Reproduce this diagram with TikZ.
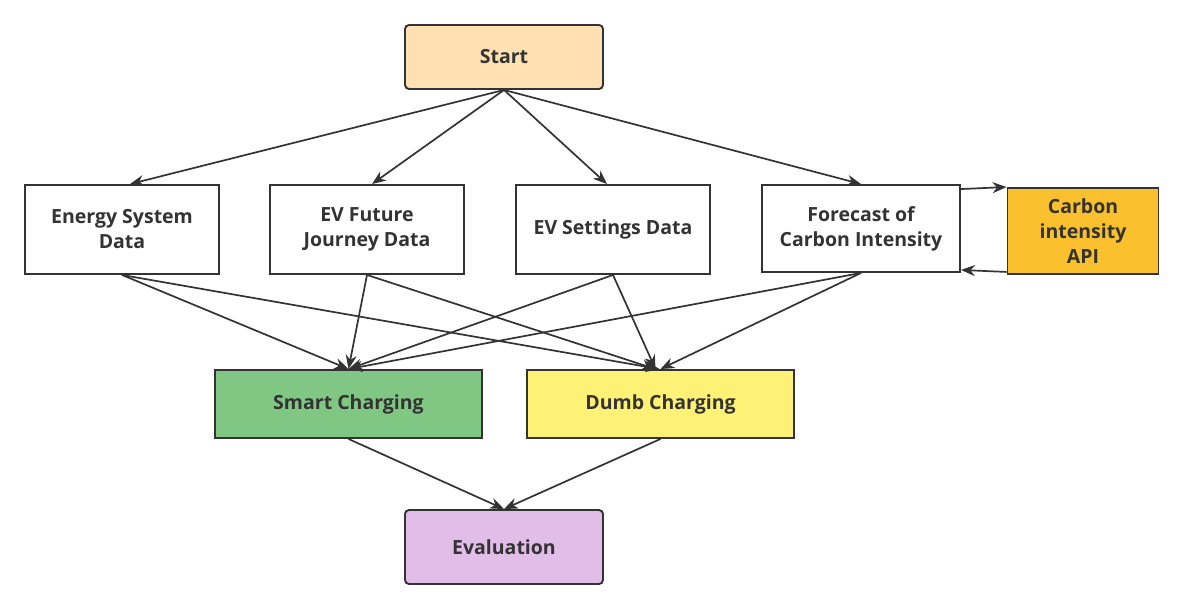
\documentclass[tikz,border=0pt]{standalone}
\usepackage{fontspec}
\setmainfont{Open Sans}
\usetikzlibrary{arrows.meta}
\definecolor{txt}{HTML}{333333}
\definecolor{startc}{HTML}{FFE0B2}
\definecolor{smartc}{HTML}{81C784}
\definecolor{dumbc}{HTML}{FFF176}
\definecolor{apic}{HTML}{FBC02D}
\definecolor{evalc}{HTML}{E1BEE7}
\tikzset{
  box/.style={draw=txt, line width=1.9pt, fill=white, text=txt, font=\fontsize{19.5}{25}\selectfont\bfseries, align=center, inner sep=0pt},
  rbox/.style={box, rounded corners=4pt},
  conn/.style={draw=txt, line width=1.7pt, -{Stealth[length=14pt,width=11pt]}},
}
\begin{document}
\begin{tikzpicture}[x=1pt,y=-1pt]
\useasboundingbox (0,0) rectangle (1184,610);
\node[rbox, fill=startc, minimum width=198pt, minimum height=64pt] (start) at (504,57) {Start};
\node[box, minimum width=194pt, minimum height=89pt] (energy) at (122,229.5) {Energy System\\Data};
\node[box, minimum width=194pt, minimum height=89pt] (evf) at (367,229.5) {EV Future\\Journey Data};
\node[box, minimum width=194pt, minimum height=89pt] (evs) at (613,229.5) {EV Settings Data};
\node[box, minimum width=198pt, minimum height=87pt] (fc) at (861,228.5) {Forecast of\\Carbon Intensity};
\node[box, fill=apic, minimum width=151pt, minimum height=86pt] (api) at (1083,231) {Carbon\\intensity\\API};
\node[box, fill=smartc, minimum width=267pt, minimum height=68pt] (smart) at (348.5,404) {Smart Charging};
\node[box, fill=dumbc, minimum width=267pt, minimum height=68pt] (dumb) at (660.5,404) {Dumb Charging};
\node[rbox, fill=evalc, minimum width=198pt, minimum height=74pt] (eval) at (504,547) {Evaluation};
% start to data
\draw[conn] (start.south) -- ([xshift=8pt]energy.north);
\draw[conn] (start.south) -- ([xshift=5pt]evf.north);
\draw[conn] (start.south) -- ([xshift=-6pt]evs.north);
\draw[conn] (start.south) -- (fc.north);
% data to charging
\draw[conn] (energy.south) -- (smart.north);
\draw[conn] (energy.south) -- ([xshift=-1pt]dumb.north);
\draw[conn] (evf.south) -- (smart.north);
\draw[conn] (evf.south) -- ([xshift=-5pt]dumb.north);
\draw[conn] (evs.south) -- (smart.north);
\draw[conn] (evs.south) -- ([xshift=-5pt]dumb.north);
\draw[conn] (fc.south) -- (smart.north);
\draw[conn] (fc.south) -- (dumb.north);
% api loop
\draw[conn] ([yshift=-5pt]fc.north east) -- (api.north west);
\draw[conn] ([yshift=3pt]api.south west) -- ([yshift=3pt]fc.south east);
% to evaluation
\draw[conn] (smart.south) -- (eval.north);
\draw[conn] (dumb.south) -- (eval.north);
\end{tikzpicture}
\end{document}
